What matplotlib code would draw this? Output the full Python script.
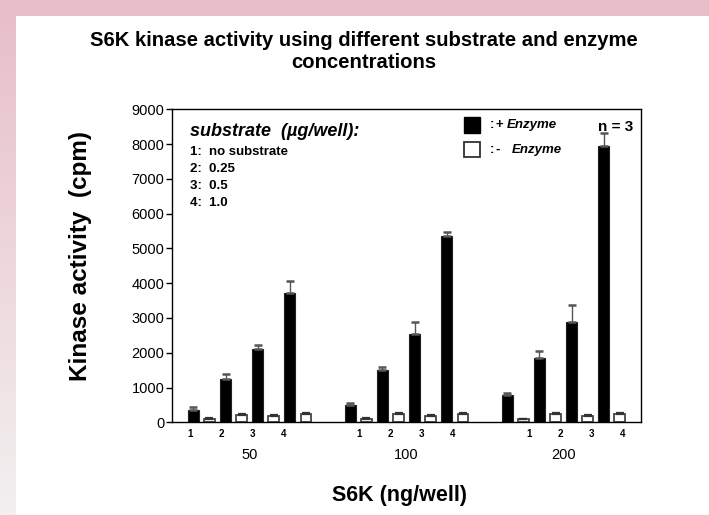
import numpy as np
import matplotlib
matplotlib.use("Agg")
import matplotlib.pyplot as plt
from matplotlib.patches import Rectangle

plt.rcParams['font.family'] = ['Liberation Sans', 'DejaVu Sans']

# ---------------- data ----------------
enzyme_groups = ["50", "100", "200"]          # S6K (ng/well)
substrate_labels = ["1", "2", "3", "4"]
plus_enzyme = [[350, 1250, 2120, 3730],
               [500, 1500, 2540, 5360],
               [795, 1850, 2890, 7945]]
plus_enzyme_err = [[80, 150, 115, 335],
                   [50, 80, 350, 105],
                   [40, 190, 490, 365]]
minus_enzyme = [[95, 220, 190, 240],
                [95, 230, 190, 230],
                [88, 230, 190, 240]]
minus_enzyme_err = [[20, 28, 8, 20],
                    [20, 28, 8, 28],
                    [18, 28, 8, 20]]
legend_notes = ["1:  no substrate", "2:  0.25", "3:  0.5", "4:  1.0"]
yticks = list(range(0, 9001, 1000))

W, H = 709, 515
fig = plt.figure(figsize=(W / 100, H / 100), dpi=100)

def fx(px):
    return px / W

def fy(py):
    return 1 - py / H

# background: pink-to-grey gradient with white panel
bg = fig.add_axes([0, 0, 1, 1])
bg.set_axis_off()
grad = np.linspace(0, 1, 256)[:, None]
top = np.array([232, 190, 200]) / 255
bot = np.array([242, 240, 240]) / 255
img = top[None, None, :] * (1 - grad[:, :, None]) + bot[None, None, :] * grad[:, :, None]
bg.imshow(img, aspect='auto', extent=[0, 1, 0, 1], origin='upper')
bg.add_patch(Rectangle((fx(16), 0), 1 - fx(16), fy(16), color='white', lw=0))
bg.set_xlim(0, 1)
bg.set_ylim(0, 1)

# main axes
ax_left, ax_right, ax_top, ax_bot = 172, 641, 109.3, 422.3
ax = fig.add_axes([fx(ax_left), fy(ax_bot), fx(ax_right) - fx(ax_left), fy(ax_top) - fy(ax_bot)])
ax.set_facecolor('none')

pitch = 16.1
xmax = (ax_right - ax_left) / pitch
first = (193.3 - ax_left) / pitch
gstep = 9.75
bw = 0.68

for g in range(len(enzyme_groups)):
    for k in range(len(substrate_labels)):
        xb = first + g * gstep + 2 * k
        xw = xb + 1
        ax.bar(xb, plus_enzyme[g][k], width=bw, color='black', edgecolor='#222222', lw=0.8, zorder=2)
        ax.bar(xw, minus_enzyme[g][k], width=bw, color='white', edgecolor='#444444', lw=1.3, zorder=2)
        ax.errorbar([xb], [plus_enzyme[g][k]], yerr=[[0], [plus_enzyme_err[g][k]]],
                    fmt='none', ecolor='#555555', elinewidth=1.0, capsize=2.6, capthick=1.8, zorder=3)
        ax.errorbar([xw], [minus_enzyme[g][k]], yerr=[[0], [minus_enzyme_err[g][k]]],
                    fmt='none', ecolor='#333333', elinewidth=1.0, capsize=2.6, capthick=1.6, zorder=3)

ax.set_xlim(0, xmax)
ax.set_ylim(0, 9000)
ax.set_yticks(yticks)
ax.set_yticklabels([str(t) for t in yticks], fontsize=10.5)
ax.tick_params(axis='y', direction='out', length=4, width=1, pad=1.5, colors='black')
ax.set_xticks([])
for s in ax.spines.values():
    s.set_color('black')
    s.set_linewidth(1.0)

# substrate index labels under bars
lab_first = (190 - ax_left) / pitch
lab_step = 31.1 / pitch
lab_gstep = 169.5 / pitch
for g in range(len(enzyme_groups)):
    for k, lab in enumerate(substrate_labels):
        ax.text(lab_first + g * lab_gstep + k * lab_step, -330, lab, ha='center', va='center',
                fontsize=7, fontweight='bold', clip_on=False)
    gc = first + g * gstep + 3.5
    ax.text(gc, -935, enzyme_groups[g], ha='center', va='center', fontsize=10.5, clip_on=False)

# titles and labels
fig.text(fx(364), fy(40), "S6K kinase activity using different substrate and enzyme",
         ha='center', va='center', fontsize=14.6, fontweight='bold')
fig.text(fx(364), fy(63), "concentrations", ha='center', va='center', fontsize=14.6, fontweight='bold')
fig.text(fx(400), fy(495), "S6K (ng/well)", ha='center', va='center', fontsize=15.5, fontweight='bold')
fig.text(fx(80), fy(256), "Kinase activity  (cpm)", ha='center', va='center', rotation=90,
         fontsize=17.5, fontweight='bold')

# substrate note
fig.text(fx(190), fy(131.7), "substrate  (µg/well):", ha='left', va='center', fontsize=13,
         fontweight='bold', fontstyle='italic')
for i, note in enumerate(legend_notes):
    fig.text(fx(190), fy(151.7 + i * 17.2), note, ha='left', va='center', fontsize=9.5, fontweight='bold')

# enzyme legend
fig.patches.append(Rectangle((fx(464), fy(133)), fx(480) - fx(464), fy(117) - fy(133),
                             facecolor='black', edgecolor='black', transform=fig.transFigure, figure=fig))
fig.patches.append(Rectangle((fx(464), fy(157)), fx(480) - fx(464), fy(142) - fy(157),
                             facecolor='white', edgecolor='#333333', lw=1.3, transform=fig.transFigure, figure=fig))
fig.text(fx(489.5), fy(125), ":", ha='left', va='center', fontsize=9.5, fontweight='bold')
fig.text(fx(495), fy(125), "+", ha='left', va='center', fontsize=9.5, fontweight='bold')
fig.text(fx(507), fy(125), "Enzyme", ha='left', va='center', fontsize=9.5, fontweight='bold', fontstyle='italic')
fig.text(fx(489.5), fy(150), ":", ha='left', va='center', fontsize=9.5, fontweight='bold')
fig.text(fx(496), fy(150), "-", ha='left', va='center', fontsize=9.5, fontweight='bold')
fig.text(fx(511.5), fy(150), "Enzyme", ha='left', va='center', fontsize=9.5, fontweight='bold', fontstyle='italic')
fig.text(fx(597.5), fy(126.7), "n = 3", ha='left', va='center', fontsize=11, fontweight='bold')

fig.savefig("out.png", dpi=100)
